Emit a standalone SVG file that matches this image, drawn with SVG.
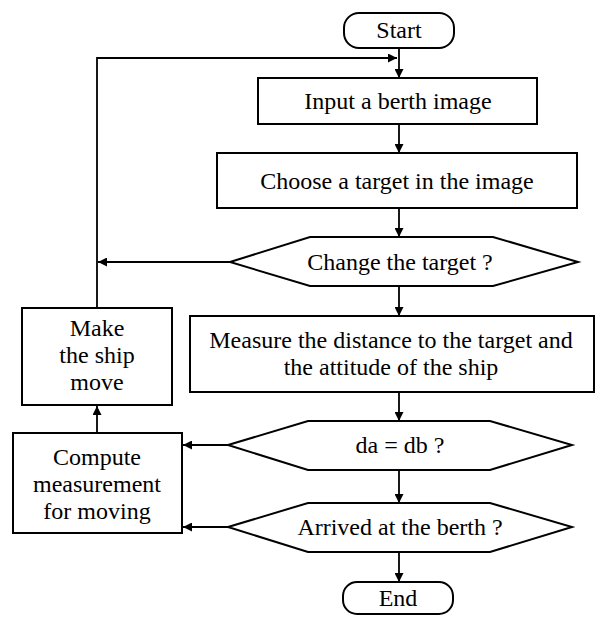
<svg xmlns="http://www.w3.org/2000/svg" width="598" height="617" viewBox="0 0 598 617">
<style>
.box{fill:#fff;stroke:#000;stroke-width:2}
.ln{fill:none;stroke:#000;stroke-width:1.8}
.t{font-family:'Liberation Serif','DejaVu Serif','Times New Roman',serif;font-size:24px;fill:#000;text-anchor:middle;dominant-baseline:central}
</style>
<defs>
<marker id="ah" viewBox="0 0 10 10" refX="10" refY="5" markerWidth="9" markerHeight="9" markerUnits="userSpaceOnUse" orient="auto">
<path d="M0,0 L10,5 L0,10 z" fill="#000"/>
</marker>
</defs>
<g id="connectors">
<line class="ln" x1="399" y1="48" x2="399" y2="78" marker-end="url(#ah)"/>
<polyline class="ln" points="97,308 97,58 397,58" marker-end="url(#ah)"/>
<line class="ln" x1="399" y1="124" x2="399" y2="153" marker-end="url(#ah)"/>
<line class="ln" x1="399" y1="208" x2="399" y2="237" marker-end="url(#ah)"/>
<line class="ln" x1="230" y1="262" x2="98" y2="262" marker-end="url(#ah)"/>
<line class="ln" x1="399" y1="286" x2="399" y2="316" marker-end="url(#ah)"/>
<line class="ln" x1="399" y1="392" x2="399" y2="421" marker-end="url(#ah)"/>
<line class="ln" x1="399" y1="470" x2="399" y2="503" marker-end="url(#ah)"/>
<line class="ln" x1="399" y1="552" x2="399" y2="582" marker-end="url(#ah)"/>
<line class="ln" x1="228" y1="445" x2="183" y2="445" marker-end="url(#ah)"/>
<line class="ln" x1="228" y1="527" x2="183" y2="527" marker-end="url(#ah)"/>
<line class="ln" x1="97" y1="433" x2="97" y2="406" marker-end="url(#ah)"/>
</g>
<g id="start">
<rect class="box" x="344" y="13" width="110" height="35" rx="15"/>
<text class="t" font-family="Liberation Serif, DejaVu Serif, serif" x="399" y="30">Start</text>
</g>
<g id="input">
<rect class="box" x="258" y="78" width="279" height="46"/>
<text class="t" font-family="Liberation Serif, DejaVu Serif, serif" x="398" y="101">Input a berth image</text>
</g>
<g id="choose">
<rect class="box" x="217" y="153" width="360" height="55"/>
<text class="t" font-family="Liberation Serif, DejaVu Serif, serif" x="397" y="181">Choose a target in the image</text>
</g>
<g id="change">
<polygon class="box" points="230,262 310,237 493,237 578,262 493,286 310,286"/>
<text class="t" font-family="Liberation Serif, DejaVu Serif, serif" x="400" y="262">Change the target ?</text>
</g>
<g id="measure">
<rect class="box" x="190" y="316" width="404" height="76"/>
<text class="t" font-family="Liberation Serif, DejaVu Serif, serif" x="391" y="340">Measure the distance to the target and</text>
<text class="t" font-family="Liberation Serif, DejaVu Serif, serif" x="391" y="367">the attitude of the ship</text>
</g>
<g id="dadb">
<polygon class="box" points="228,445 308,421 490,421 572,445 490,470 308,470"/>
<text class="t" font-family="Liberation Serif, DejaVu Serif, serif" x="400" y="445">da = db ?</text>
</g>
<g id="arrived">
<polygon class="box" points="228,527 308,503 490,503 572,527 490,552 308,552"/>
<text class="t" font-family="Liberation Serif, DejaVu Serif, serif" x="400" y="527">Arrived at the berth ?</text>
</g>
<g id="end">
<rect class="box" x="343" y="582" width="110" height="32" rx="14"/>
<text class="t" font-family="Liberation Serif, DejaVu Serif, serif" x="398" y="598">End</text>
</g>
<g id="make">
<rect class="box" x="22" y="308" width="150" height="97"/>
<text class="t" font-family="Liberation Serif, DejaVu Serif, serif" x="97" y="328">Make</text>
<text class="t" font-family="Liberation Serif, DejaVu Serif, serif" x="97" y="355">the ship</text>
<text class="t" font-family="Liberation Serif, DejaVu Serif, serif" x="97" y="382">move</text>
</g>
<g id="compute">
<rect class="box" x="13" y="433" width="169" height="100"/>
<text class="t" font-family="Liberation Serif, DejaVu Serif, serif" x="97" y="457">Compute</text>
<text class="t" font-family="Liberation Serif, DejaVu Serif, serif" x="97" y="484">measurement</text>
<text class="t" font-family="Liberation Serif, DejaVu Serif, serif" x="97" y="511">for moving</text>
</g>
</svg>
